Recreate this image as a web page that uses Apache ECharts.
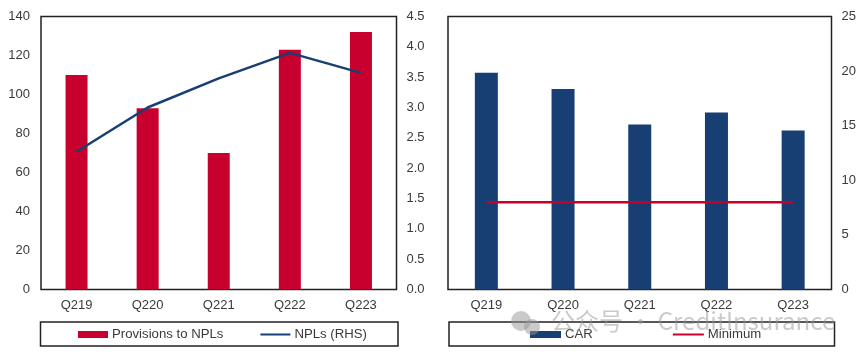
<!DOCTYPE html>
<html lang="en">
<head>
    <meta charset="UTF-8">
    <title>Provisions and CAR</title>
    <script src="https://cdn.jsdelivr.net/npm/echarts@6/dist/echarts.min.js"></script>
    <style>
        html, body { margin: 0; padding: 0; background: #fff; }
    </style>
</head>
<body>
<div id="main" style="width: 865px;height: 357px"></div>

<script>
    var categories = ['Q219', 'Q220', 'Q221', 'Q222', 'Q223'];
    var provisions = [110, 93, 70, 123, 132];
    var npls = [2.27, 3.0, 3.48, 3.9, 3.57];
    var car = [19.85, 18.35, 15.1, 16.2, 14.55];
    var minimum = [8, 8, 8, 8, 8];

    var red = '#c8002d';
    var navy = '#173f73';
    var textColor = '#3a3a3a';
    var font = 'Liberation Sans';

    var chartDom = document.getElementById('main');
    var myChart = echarts.init(chartDom);

    function catAxis(gridIndex) {
        return {
            type: 'category',
            gridIndex: gridIndex,
            data: categories,
            axisTick: { show: false },
            axisLine: { show: false },
            axisLabel: { color: textColor, fontFamily: font, fontSize: 13, margin: 9 }
        };
    }

    function valAxis(gridIndex, position, max, interval, digits) {
        return {
            type: 'value',
            gridIndex: gridIndex,
            position: position,
            min: 0,
            max: max,
            interval: interval,
            splitLine: { show: false },
            axisTick: { show: false },
            axisLine: { show: false },
            axisLabel: {
                color: textColor,
                fontFamily: font,
                fontSize: 13,
                margin: position === 'left' ? 11 : 10,
                formatter: function (v) { return v.toFixed(digits); }
            }
        };
    }

    function legendBox(x, w) {
        return {
            type: 'rect',
            shape: { x: x, y: 322, width: w, height: 24 },
            style: { fill: 'none', stroke: '#222', lineWidth: 1.5 }
        };
    }

    var option = {
        animation: false,
        backgroundColor: '#fff',
        grid: [
            { left: 41, top: 16.5, width: 355.5, height: 273, show: true, borderColor: '#222', borderWidth: 1.5, backgroundColor: 'transparent' },
            { left: 448, top: 16.5, width: 383.5, height: 273, show: true, borderColor: '#222', borderWidth: 1.5, backgroundColor: 'transparent' }
        ],
        xAxis: [catAxis(0), catAxis(1)],
        yAxis: [
            valAxis(0, 'left', 140, 20, 0),
            valAxis(0, 'right', 4.5, 0.5, 1),
            valAxis(1, 'right', 25, 5, 0)
        ],
        legend: [
            {
                left: 78, top: 328, padding: 0, itemGap: 36, itemWidth: 30, itemHeight: 7,
                textStyle: { color: textColor, fontFamily: font, fontSize: 13.2, padding: [0, 0, 0, -1] },
                data: [
                    { name: 'Provisions to NPLs', icon: 'rect' },
                    { name: 'NPLs (RHS)', itemStyle: { opacity: 0 } }
                ]
            },
            {
                left: 530, top: 328, padding: 0, itemGap: 79, itemWidth: 31, itemHeight: 7,
                textStyle: { color: textColor, fontFamily: font, fontSize: 13.2, padding: [0, 0, 0, -1] },
                data: [
                    { name: 'CAR', icon: 'rect' },
                    { name: 'Minimum', itemStyle: { opacity: 0 } }
                ]
            }
        ],
        series: [
            {
                name: 'Provisions to NPLs', type: 'bar', xAxisIndex: 0, yAxisIndex: 0,
                barWidth: 22, data: provisions,
                itemStyle: { color: red }
            },
            {
                name: 'NPLs (RHS)', type: 'line', xAxisIndex: 0, yAxisIndex: 1,
                symbol: 'none', data: npls,
                lineStyle: { color: navy, width: 2.5 }, itemStyle: { color: navy }
            },
            {
                name: 'CAR', type: 'bar', xAxisIndex: 1, yAxisIndex: 2,
                barWidth: 23, data: car,
                itemStyle: { color: navy }
            },
            {
                name: 'Minimum', type: 'line', xAxisIndex: 1, yAxisIndex: 2,
                symbol: 'none', data: minimum,
                lineStyle: { color: red, width: 2.5 }, itemStyle: { color: red }
            }
        ],
        graphic: [
            legendBox(40.5, 357.5),
            legendBox(449, 385.5),
            // watermark over the right legend
            {
                type: 'text', left: 551, top: 309, z: 100,
                style: {
                    text: '公众号 · CreditInsurance',
                    fill: 'rgba(150,150,150,0.5)',
                    font: '24px "Noto Sans CJK SC", "Liberation Sans"'
                }
            },
            { type: 'circle', z: 100, shape: { cx: 521, cy: 321, r: 10 }, style: { fill: 'rgba(150,150,150,0.5)' } },
            { type: 'circle', z: 100, shape: { cx: 532, cy: 327, r: 8 }, style: { fill: 'rgba(150,150,150,0.5)' } }
        ]
    };

    option && myChart.setOption(option);
</script>
</body>
</html>
